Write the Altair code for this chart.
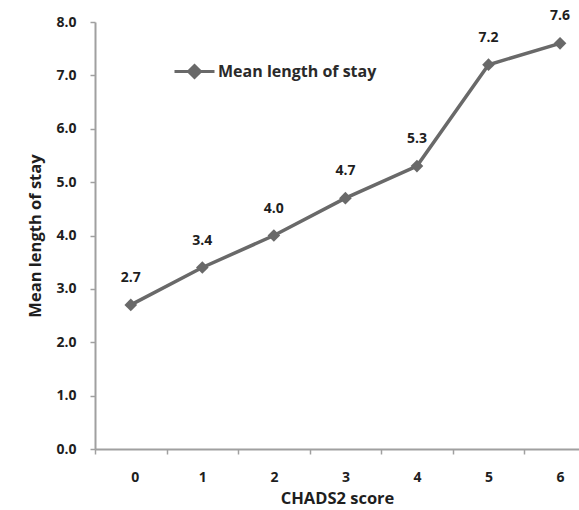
import altair as alt
import pandas as pd

scores = [0, 1, 2, 3, 4, 5, 6]
mean_los = [2.7, 3.4, 4.0, 4.7, 5.3, 7.2, 7.6]
series_name = "Mean length of stay"
y_ticks = [0, 1, 2, 3, 4, 5, 6, 7, 8]
x_tick_edges = [-0.5, 0.5, 1.5, 2.5, 3.5, 4.5, 5.5]

df = pd.DataFrame({"score": scores, "los": mean_los, "series": [series_name] * len(scores)})

FONT = "Open Sans"
LINE = "#696969"
TEXT = "#1e1e1e"

x_enc = alt.X(
    "score:Q",
    scale=alt.Scale(domain=[-0.5, 6.265], nice=False, zero=False),
    axis=alt.Axis(
        values=x_tick_edges,
        labelExpr="datum.value + 0.5",
        labelOffset=35.8,
        title="CHADS2 score",
        grid=False,
        tickSize=5,
        labelPadding=16,
        titlePadding=6,
    ),
)
y_enc = alt.Y(
    "los:Q",
    scale=alt.Scale(domain=[0, 8], nice=False),
    axis=alt.Axis(
        values=y_ticks,
        format=".1f",
        title="Mean length of stay",
        grid=False,
        tickSize=5,
        labelPadding=14,
        titlePadding=12,
    ),
)

color = alt.Color(
    "series:N",
    scale=alt.Scale(range=[LINE]),
    legend=alt.Legend(
        title=None,
        orient="none",
        legendX=78,
        legendY=28,
        padding=0,
        symbolType="M-1,0L1,0M0,-0.3L0.3,0L0,0.3L-0.3,0Z",
        symbolSize=1600,
        symbolStrokeWidth=3,
        symbolFillColor=LINE,
        symbolStrokeColor=LINE,
        labelFont=FONT,
        labelFontSize=16,
        labelFontWeight="bold",
        labelColor="#2a2a2a",
        labelOffset=2,
    ),
)

base = alt.Chart(df)
line = base.mark_line(strokeWidth=3.5).encode(x=x_enc, y=y_enc, color=color)
pts = base.mark_point(shape="diamond", filled=True, size=160, opacity=1, color=LINE).encode(x=x_enc, y=y_enc)
labels = base.mark_text(dy=-27, font=FONT, fontSize=14, fontWeight="bold", color=TEXT).encode(
    x=x_enc, y=y_enc, text=alt.Text("los:Q", format=".1f")
)

chart = (
    alt.layer(line, pts, labels)
    .properties(
        width=484,
        height=427,
        autosize=alt.AutoSizeParams(type="none"),
        padding={"left": 95, "top": 22, "right": 0, "bottom": 61},
        background="white",
    )
    .configure_view(stroke=None)
    .configure_axis(
        domainColor="#a0a0a0",
        domainWidth=2,
        tickColor="#a0a0a0",
        tickWidth=1.5,
        labelFont=FONT,
        labelFontSize=14,
        labelFontWeight="bold",
        labelColor=TEXT,
        titleFont=FONT,
        titleFontSize=16.5,
        titleFontWeight="bold",
        titleColor=TEXT,
    )
)

chart.save("out.html", embed_options={"renderer": "svg", "actions": False})
